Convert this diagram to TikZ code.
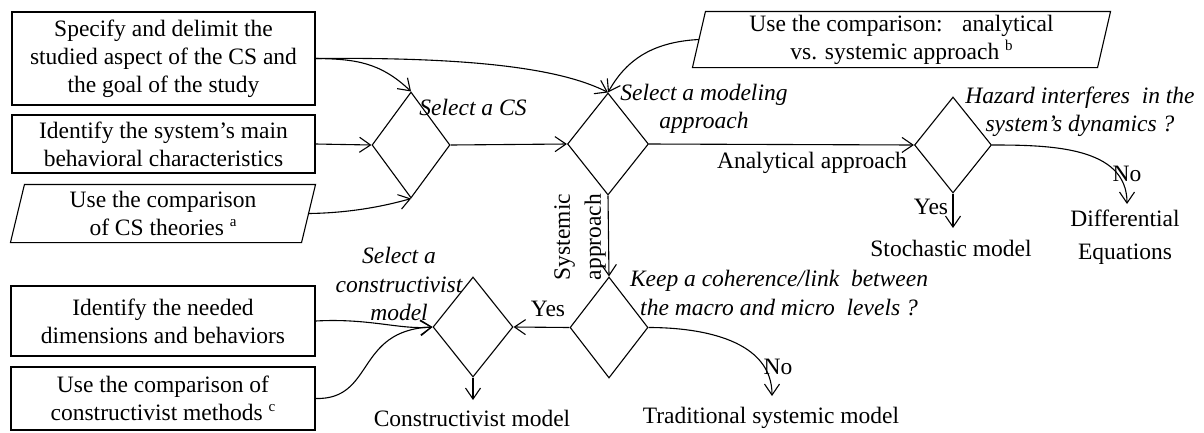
\documentclass[tikz,border=0pt]{standalone}
\usepackage{fontspec}
\setmainfont{Liberation Serif}
\usetikzlibrary{shapes.geometric,arrows.meta}
\newcommand{\supx}[1]{\raisebox{9pt}{\fontsize{15}{15}\selectfont #1}}
\begin{document}
\begin{tikzpicture}[x=1pt,y=-1pt,
  font=\fontsize{23.5}{28}\selectfont,
  line width=1.1pt,
  >={Straight Barb[length=11pt,width=15pt]},
  box/.style={draw,rectangle,inner sep=0pt,minimum width=303pt,align=center},
  pgram/.style={rectangle,inner sep=0pt,align=center},
  dia/.style={draw,diamond,inner sep=0pt,minimum width=78pt,minimum height=102pt},
  lab/.style={inner sep=0pt,align=center},
  ilab/.style={inner sep=0pt,align=center,font=\fontsize{23.5}{28.5}\selectfont\itshape}]
\useasboundingbox (0,0) rectangle (1204,432);
% boxes
\node[box,minimum height=93pt] (b1) at (163.5,58.5) {Specify and delimit the\\studied aspect of the CS and\\the goal of the study};
\node[box,minimum height=58pt] (b2) at (163.5,144) {Identify the system’s main\\behavioral characteristics};
\node[pgram,minimum width=304pt,minimum height=57pt] (p3) at (163,213.5) {Use the comparison\\of CS theories \supx{a}};
\draw ([xshift=14pt]p3.north west) -- (p3.north east) -- ([xshift=-14pt]p3.south east) -- (p3.south west) -- cycle;
\node[pgram,minimum width=417pt,minimum height=55pt] (pb) at (901.5,39.5) {Use the comparison: \ \ analytical\\vs. systemic approach \supx{b}};
\draw ([xshift=13pt]pb.north west) -- (pb.north east) -- ([xshift=-13pt]pb.south east) -- (pb.south west) -- cycle;
\node[box,minimum width=304pt,minimum height=70pt] (b4) at (163,321) {Identify the needed\\dimensions and behaviors};
\node[box,minimum width=304pt,minimum height=63pt] (b5) at (163,398.5) {Use the comparison of\\constructivist methods \supx{c}};
% diamonds
\node[dia,minimum height=106pt] (d1) at (411,145) {};
\node[dia,minimum width=81pt] (d2) at (608,144) {};
\node[dia,minimum width=77pt,minimum height=96pt] (d3) at (953,145) {};
\node[dia,minimum height=101pt] (d4) at (609,327.5) {};
\node[dia,minimum width=80pt,minimum height=100pt] (d5) at (473,327) {};
% labels
\node[ilab] (l1) at (473,107) {Select a CS};
\node[ilab] (l2) at (704,109) {Select a modeling\\approach};
\node[lab] (l3) at (812,163) {Analytical approach};
\node[ilab] (l4) at (1080,112) {Hazard interferes\ \ in the\\system’s dynamics ?};
\node[lab] (y1) at (931,207) {Yes};
\node[lab] (n1) at (1127,174) {No};
\node[lab] (o1) at (951,248) {Stochastic model};
\node[lab,font=\fontsize{23.5}{33}\selectfont] (o2) at (1125,237) {Differential\\Equations};
\node[lab,rotate=90,font=\fontsize{23.5}{31}\selectfont] (l5) at (580,237) {Systemic\\approach};
\node[ilab] (l6) at (779,293) {Keep a coherence/link\ \ between\\the macro and micro\ \ levels ?};
\node[lab] (y2) at (548,309) {Yes};
\node[lab] (n2) at (778,367) {No};
\node[lab] (o3) at (771,418) {Traditional systemic model};
\node[lab] (o4) at (472,418) {Constructivist model};
\node[ilab] (l7) at (399,284) {Select a\\constructivist\\model};
% free ends
\coordinate (e1) at (953,228);
\coordinate (e2) at (1127,204);
\coordinate (e3) at (772,396);
\coordinate (e4) at (473,400);
% connectors
\draw[->] (b1.east) .. controls (355,59) and (380,62) .. (d1.north);
\draw[->] (b1.east) .. controls (470,57) and (560,68) .. (d2.north);
\draw[->] ([xshift=6.5pt]pb.west) .. controls (650,42) and (625,62) .. (d2.north);
\draw[->] (b2.east) -- (d1.west);
\draw[->] ([xshift=-7pt]p3.east) .. controls (350,213) and (385,206) .. (d1.south);
\draw[->] (d1.east) -- (d2.west);
\draw[->] (d2.east) -- (d3.west);
\draw[->] (d3.south) -- (e1);
\draw[->] (d3.east) to[out=0,in=90] (e2);
\draw[->] (d2.south) -- (d4.north);
\draw[->] (d4.west) -- (d5.east);
\draw[->] (d4.east) to[out=0,in=90] (e3);
\draw[->] (d5.south) -- (e4);
\draw[->] (b4.east) .. controls (370,318) and (400,330) .. (d5.west);
\draw[->] (b5.east) .. controls (375,400) and (355,330) .. (d5.west);
\end{tikzpicture}
\end{document}
